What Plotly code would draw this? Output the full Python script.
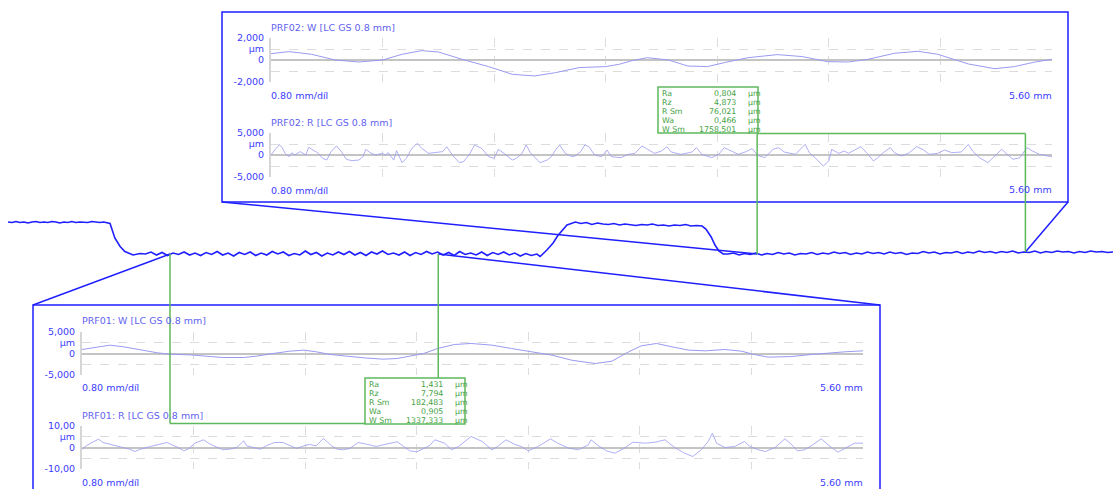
import numpy as np
import plotly.graph_objects as go

W_PX, H_PX = 1113, 489
FONT = "DejaVu Sans"

# ---------------------------------------------------------------- PRF02 (upper)
prf02_w_x = [0.00, 0.13, 0.29, 0.46, 0.63, 0.80, 0.94, 1.08, 1.20, 1.37, 1.56, 1.73,
             1.89, 2.04, 2.21, 2.40, 2.50, 2.59, 2.70, 2.85, 2.99, 3.13, 3.25, 3.42,
             3.63, 3.81, 3.99, 4.14, 4.28, 4.47, 4.64, 4.78, 5.00, 5.19, 5.33, 5.48, 5.60]
prf02_w = [0.58, 0.76, 0.52, 0.00, -0.18, 0.00, 0.52, 0.85, 0.73, 0.06, -0.60, -1.30,
           -1.45, -1.15, -0.69, -0.60, -0.38, -0.05, 0.21, 0.00, -0.55, -0.60, -0.24, 0.21,
           0.49, 0.31, -0.15, -0.18, 0.06, 0.61, 0.79, 0.52, -0.36, -0.79, -0.60, -0.18, 0.06]

prf02_r_x = [0.00, 0.03, 0.06, 0.08, 0.10, 0.13, 0.15, 0.17, 0.21, 0.25, 0.27, 0.31,
             0.34, 0.37, 0.40, 0.43, 0.47, 0.51, 0.54, 0.58, 0.63, 0.66, 0.68, 0.71,
             0.75, 0.80, 0.82, 0.84, 0.88, 0.90, 0.94, 0.97, 1.01, 1.05, 1.08, 1.13,
             1.18, 1.23, 1.26, 1.30, 1.35, 1.38, 1.42, 1.46, 1.51, 1.56, 1.60, 1.63,
             1.67, 1.70, 1.73, 1.76, 1.80, 1.83, 1.86, 1.91, 1.93, 1.98, 2.01, 2.04,
             2.07, 2.11, 2.16, 2.18, 2.22, 2.25, 2.28, 2.32, 2.37, 2.41, 2.44, 2.51,
             2.56, 2.61, 2.66, 2.70, 2.75, 2.80, 2.84, 2.87, 2.94, 3.02, 3.05, 3.09,
             3.16, 3.21, 3.25, 3.30, 3.35, 3.40, 3.45, 3.49, 3.54, 3.60, 3.64, 3.68,
             3.76, 3.83, 3.86, 3.90, 3.94, 3.96, 4.00, 4.02, 4.07, 4.11, 4.14, 4.19,
             4.23, 4.27, 4.32, 4.35, 4.39, 4.44, 4.47, 4.52, 4.57, 4.63, 4.68, 4.72,
             4.78, 4.83, 4.88, 4.95, 5.00, 5.03, 5.08, 5.14, 5.19, 5.24, 5.27, 5.32,
             5.37, 5.42, 5.46, 5.51, 5.57, 5.60]
prf02_r = [0.00, 1.29, 2.27, 1.74, 0.38, -0.38, 0.53, 0.00, 0.76, 0.00, 1.74, 0.98,
           0.38, -0.76, -1.14, 0.76, 2.05, 0.53, -0.98, -1.29, -1.14, -0.38, 1.29, 0.53,
           0.00, 0.38, 0.00, 0.53, -1.14, 0.98, -1.74, -0.76, 1.52, 2.65, 1.52, 0.38,
           0.53, 0.76, 1.89, 0.00, -1.74, -1.52, 0.00, 2.27, 1.52, -0.38, -0.76, 1.29,
           0.38, -0.38, -1.14, -0.76, 0.38, 2.27, 0.53, -1.14, -1.74, -1.14, -0.38, 1.14,
           2.27, 0.38, -0.38, -0.23, 0.76, 2.27, 1.89, 0.00, -0.38, 1.14, -0.38, -0.61,
           0.15, 0.38, 2.05, 1.29, 0.38, 0.91, 1.89, 0.68, 0.15, 0.68, 1.67, 0.15,
           -0.61, 0.15, 1.67, 0.91, 0.15, 0.68, 1.44, -0.08, -0.61, 1.29, 1.67, 0.68,
           0.15, 2.42, 0.53, -0.61, -1.74, -2.50, -1.36, 1.29, 0.38, 0.91, 0.38, 1.29,
           1.89, 0.53, -1.36, -0.61, 0.53, 1.67, 0.53, -0.23, 0.38, 1.89, 1.14, 0.15,
           0.38, 1.14, 0.53, 0.68, 2.42, 0.91, -0.61, -1.74, -0.23, 1.29, 0.38, -0.98,
           -0.61, 1.67, 0.91, 0.15, -0.23, -0.40]

# ---------------------------------------------------------------- PRF01 (lower)
prf01_w_x = [0.00, 0.11, 0.20, 0.30, 0.42, 0.54, 0.63, 0.77, 0.89, 1.01, 1.16, 1.25,
             1.37, 1.49, 1.59, 1.68, 1.78, 1.92, 2.02, 2.16, 2.26, 2.35, 2.45, 2.55,
             2.67, 2.79, 2.94, 3.08, 3.22, 3.37, 3.51, 3.68, 3.80, 3.92, 4.01, 4.12,
             4.23, 4.35, 4.47, 4.61, 4.73, 4.81, 4.92, 5.09, 5.23, 5.37, 5.47, 5.60]
prf01_w = [0.93, 1.55, 1.94, 1.55, 0.78, 0.16, -0.16, -0.31, -0.62, -0.93, -0.93, -0.62,
           0.00, 0.54, 0.78, 0.39, -0.23, -0.78, -1.01, -1.32, -1.16, -0.62, 0.00, 1.16,
           2.09, 2.33, 1.94, 1.16, 0.39, -0.39, -1.55, -2.33, -1.78, 0.39, 1.78, 2.33,
           1.55, 0.78, 0.62, 0.93, 0.54, -0.16, -0.85, -0.70, -0.23, 0.16, 0.39, 0.62]

prf01_r_x = [0.00, 0.03, 0.08, 0.12, 0.15, 0.22, 0.30, 0.34, 0.38, 0.42, 0.49, 0.56,
             0.61, 0.65, 0.69, 0.73, 0.76, 0.81, 0.87, 0.92, 0.97, 1.01, 1.06, 1.11,
             1.16, 1.18, 1.23, 1.28, 1.32, 1.38, 1.44, 1.49, 1.54, 1.59, 1.63, 1.68,
             1.73, 1.75, 1.79, 1.83, 1.87, 1.92, 1.98, 2.04, 2.11, 2.18, 2.26, 2.30,
             2.35, 2.40, 2.45, 2.49, 2.53, 2.60, 2.65, 2.70, 2.79, 2.87, 2.94, 2.98,
             3.04, 3.10, 3.15, 3.20, 3.27, 3.36, 3.41, 3.49, 3.56, 3.63, 3.65, 3.70,
             3.76, 3.82, 3.89, 3.95, 4.04, 4.11, 4.18, 4.25, 4.32, 4.38, 4.44, 4.49,
             4.52, 4.55, 4.61, 4.68, 4.75, 4.79, 4.85, 4.90, 4.97, 5.04, 5.09, 5.13,
             5.18, 5.24, 5.30, 5.35, 5.42, 5.47, 5.54, 5.60]
prf01_r = [-0.78, 0.78, 2.64, 3.88, 2.33, 1.09, 0.00, -0.78, -1.86, -0.78, 0.47, 1.55,
           2.33, 1.09, 0.00, -1.55, -0.78, 2.02, 3.57, 1.55, 0.00, -1.09, -0.78, 0.00,
           3.10, 0.78, 0.00, -0.78, 0.78, 2.33, 2.33, 0.78, -0.47, 0.78, 1.40, 0.78,
           4.19, 3.10, 0.78, -0.78, -1.09, -0.47, 2.33, 1.55, 0.47, 1.55, 2.64, 0.78,
           -1.55, -2.02, -0.47, 0.78, 3.57, 2.02, -1.09, 0.47, 5.12, 2.79, -1.09, 0.47,
           3.57, 1.55, 0.47, -1.55, 0.47, 4.03, 2.02, -0.31, -1.09, 1.24, 3.57, 0.93,
           -1.55, -2.64, -0.31, 2.48, 2.02, 2.48, 3.57, 0.00, -2.64, -4.19, -1.09, 2.79,
           6.67, 2.02, 0.00, 0.47, 2.79, 0.47, -1.09, -1.86, 0.00, 4.03, 1.24, -1.55,
           -1.09, 1.24, 4.03, 1.24, -2.17, -0.31, 2.02, 2.02]

prf02_labels = ["Ra", "Rz", "R Sm", "Wa", "W Sm"]
prf02_values = ["0,804", "4,873", "76,021", "0,466", "1758,501"]
prf01_labels = ["Ra", "Rz", "R Sm", "Wa", "W Sm"]
prf01_values = ["1,431", "7,794", "182,483", "0,905", "1337,333"]

# ---------------------------------------------------------------- full trace (mm, µm)
plateau_left = [2, 1, 3, 1, 2, 0, 2, 3, 1, 2, 1, 3, 2, 0, 2, 1, 3, 1, 2, 2, 1, 3, 2, 1, 2]
plateau_left_span = (0.0, 2.0)
drop_left_x = [2.07, 2.13, 2.23, 2.34, 2.44, 2.61, 2.76]
drop_left = [1, -1, -30, -47, -57, -64, -61]
floor_left = [-62, -58, -64, -59, -65, -60, -63, -58, -64, -60, -65, -59, -63, -57, -64, -60,
              -66, -59, -63, -58, -65, -60, -64, -57, -62, -58, -65, -61, -64, -56, -63, -59,
              -66, -60, -64, -58, -63, -57, -64, -59, -65, -58, -62, -56, -63, -60, -64, -58,
              -65, -59, -63, -57, -62, -58, -64, -59, -65, -57, -63, -60, -64, -58, -65, -59,
              -63, -58, -64, -60, -66, -61, -65, -62]
floor_left_span = (2.87, 11.04)
rise_x = [11.11, 11.25, 11.38, 11.48, 11.59, 11.67]
rise = [-67, -54, -40, -25, -12, -4]
plateau_right = [-2, 2, -1, 1, -3, 0, -2, -3, -1, -4, -2, -3, -5, -3, -4, -2, -5, -4, -6, -4,
                 -5, -3, -6, -5, -6]
plateau_right_span = (11.73, 14.49)
drop_right_x = [14.57, 14.68, 14.76, 14.84, 14.93]
drop_right = [-12, -28, -44, -56, -62]
floor_right = [-62, -60, -64, -61, -63, -60, -64, -61, -63, -59, -62, -60, -64, -61, -62, -59,
               -63, -60, -62, -58, -61, -59, -63, -60, -62, -58, -61, -59, -62, -58, -61, -59,
               -63, -60, -61, -57, -60, -58, -62, -59, -60, -57, -61, -58, -60, -56, -59, -57,
               -60, -57, -59, -56, -60, -58, -59, -56, -60, -57, -59, -56, -58, -57, -60, -57,
               -59, -56, -58, -57, -59, -58]
floor_right_span = (15.03, 23.07)

# evaluation lengths on the full trace (mm)
prf01_start, prf02_start, eval_len = 3.382, 15.64, 5.60

# ---------------------------------------------------------------- assemble full trace
def sampled(values, span):
    return list(np.linspace(span[0], span[1], len(values)))

full_x = (sampled(plateau_left, plateau_left_span) + drop_left_x
          + sampled(floor_left, floor_left_span) + rise_x
          + sampled(plateau_right, plateau_right_span) + drop_right_x
          + sampled(floor_right, floor_right_span))
full_z = (plateau_left + drop_left + floor_left + rise + plateau_right
          + drop_right + floor_right)

# full-trace axis: 47.9 px per mm, trace origin 8 px from the left edge
PX_PER_MM, X_ORIGIN = 47.9, 8.0
MX = (-X_ORIGIN / PX_PER_MM, (W_PX - X_ORIGIN) / PX_PER_MM)
MY = (-532.0, 446.0)


def fx(p):
    return p / W_PX


def fy(p):
    return 1 - p / H_PX


def main_to_paper(mm, um):
    return (mm - MX[0]) / (MX[1] - MX[0]), (um - MY[0]) / (MY[1] - MY[0])


BLUE = "#1f1fff"
TICK_BLUE = "#3c3cff"
TITLE_BLUE = "#6262f0"
TRACE = "#9a9af2"
GREEN = "#5cb85c"
GREEN_TXT = "#3f9f3f"
GRID = "#dcdcdc"

fig = go.Figure()
fig.add_trace(go.Scatter(x=full_x, y=full_z, mode="lines",
                         line=dict(color=BLUE, width=1.6), xaxis="x", yaxis="y",
                         hoverinfo="skip"))

layout = dict(
    width=W_PX, height=H_PX, margin=dict(l=0, r=0, t=0, b=0, pad=0, autoexpand=False),
    paper_bgcolor="white", plot_bgcolor="rgba(0,0,0,0)", showlegend=False,
    font=dict(family=FONT, size=9.5, color=TICK_BLUE),
    xaxis=dict(domain=[0, 1], range=list(MX), visible=False, fixedrange=True,
               automargin=False),
    yaxis=dict(domain=[0, 1], range=list(MY), visible=False, fixedrange=True,
               automargin=False),
)

panels = [
    # name, x px, y px, data x, data y, y limit, tick texts, line width
    ("2", (271, 1052), (38, 82), prf02_w_x, prf02_w, 2, ["-2,000", "", "0", "µm", "2,000"], 1.0),
    ("3", (271, 1052), (133, 177), prf02_r_x, prf02_r, 5, ["-5,000", "", "0", "µm", "5,000"], 0.8),
    ("4", (82, 863), (332, 375), prf01_w_x, prf01_w, 5, ["-5,000", "", "0", "µm", "5,000"], 1.0),
    ("5", (82, 863), (426, 469), prf01_r_x, prf01_r, 10, ["-10,00", "", "0", "µm", "10,00"], 0.8),
]

for name, (x0, x1), (y0, y1), dx, dy, lim, ttext, lw in panels:
    fig.add_trace(go.Scatter(x=dx, y=dy, mode="lines", line=dict(color=TRACE, width=lw),
                             xaxis="x" + name, yaxis="y" + name, hoverinfo="skip"))
    layout["xaxis" + name] = dict(
        domain=[fx(x0), fx(x1)], range=[0, eval_len], anchor="y" + name,
        tick0=0, dtick=0.8, showticklabels=False, ticks="", automargin=False,
        showgrid=True, gridcolor=GRID, griddash="dash", gridwidth=1,
        zeroline=False, showline=False, fixedrange=True)
    layout["yaxis" + name] = dict(
        domain=[fy(y1), fy(y0)], range=[-lim, lim], anchor="x" + name,
        tickvals=[-lim, -lim / 2, 0, lim / 2, lim], ticktext=ttext, automargin=False,
        ticks="outside", ticklen=3, tickcolor="rgba(0,0,0,0)",
        tickfont=dict(family=FONT, size=9.5, color=TICK_BLUE),
        showgrid=True, gridcolor=GRID, griddash="dash", gridwidth=1,
        zeroline=True, zerolinecolor="#c4c4c4", zerolinewidth=1.5,
        showline=True, linecolor="#d6d6d6", linewidth=2, fixedrange=True)

shapes = []
annotations = []


def line_paper(a, b, color, width=1.5):
    shapes.append(dict(type="line", xref="paper", yref="paper",
                       x0=a[0], y0=a[1], x1=b[0], y1=b[1],
                       line=dict(color=color, width=width), layer="above"))


# panel frames
shapes.append(dict(type="rect", xref="paper", yref="paper", x0=fx(222), x1=fx(1068),
                   y0=fy(202), y1=fy(12), line=dict(color=BLUE, width=1.5),
                   fillcolor="rgba(0,0,0,0)", layer="above"))
shapes.append(dict(type="rect", xref="paper", yref="paper", x0=fx(33), x1=fx(880),
                   y0=fy(500), y1=fy(305), line=dict(color=BLUE, width=1.5),
                   fillcolor="rgba(0,0,0,0)", layer="above"))

# zoom connectors from frame corners to the evaluation limits on the full trace
p2a = main_to_paper(prf02_start, -62)
p2b = main_to_paper(prf02_start + eval_len, -58)
p1a = main_to_paper(prf01_start, -62)
p1b = main_to_paper(prf01_start + eval_len, -62)
line_paper((fx(222), fy(202)), p2a, BLUE)
line_paper((fx(1068), fy(202)), p2b, BLUE)
line_paper((fx(33), fy(305)), p1a, BLUE)
line_paper((fx(880), fy(305)), p1b, BLUE)

# evaluation brackets
top2 = fy(133.5)
line_paper(p2a, (p2a[0], top2), GREEN)
line_paper(p2b, (p2b[0], top2), GREEN)
line_paper((p2a[0], top2), (p2b[0], top2), GREEN)
bot1 = fy(423.5)
line_paper(p1a, (p1a[0], bot1), GREEN)
line_paper((p1a[0], bot1), (fx(365), bot1), GREEN)
line_paper(p1b, (p1b[0], fy(378)), GREEN)


def param_box(left, top, labels, values):
    shapes.append(dict(type="rect", xref="paper", yref="paper", x0=fx(left), x1=fx(left + 100),
                       y0=fy(top + 46), y1=fy(top), line=dict(color=GREEN, width=1.5),
                       fillcolor="white", layer="above"))
    for i, (lab, val) in enumerate(zip(labels, values)):
        yc = fy(top + 6 + i * 9.1)
        common = dict(xref="paper", yref="paper", y=yc, yanchor="middle", showarrow=False,
                      font=dict(family=FONT, size=7.8, color=GREEN_TXT))
        annotations.append(dict(text=lab, x=fx(left + 2), xanchor="left", **common))
        annotations.append(dict(text=val, x=fx(left + 80), xanchor="right", **common))
        annotations.append(dict(text="µm", x=fx(left + 88), xanchor="left", **common))


param_box(658, 87, prf02_labels, prf02_values)
param_box(365, 378, prf01_labels, prf01_values)


def text_px(s, x, y, anchor="left", color=TICK_BLUE):
    annotations.append(dict(text=s, x=fx(x), y=fy(y), xref="paper", yref="paper",
                            xanchor=anchor, yanchor="middle", showarrow=False,
                            font=dict(family=FONT, size=9.5, color=color)))


text_px("PRF02: W [LC GS 0.8 mm]", 269, 27, color=TITLE_BLUE)
text_px("0.80 mm/díl", 269, 95)
text_px("5.60 mm", 1054, 95, "right")
text_px("PRF02: R [LC GS 0.8 mm]", 269, 122, color=TITLE_BLUE)
text_px("0.80 mm/díl", 269, 190)
text_px("5.60 mm", 1054, 189, "right")
text_px("PRF01: W [LC GS 0.8 mm]", 80, 320, color=TITLE_BLUE)
text_px("0.80 mm/díl", 80, 387.5)
text_px("5.60 mm", 865, 387.5, "right")
text_px("PRF01: R [LC GS 0.8 mm]", 80, 415, color=TITLE_BLUE)
text_px("0.80 mm/díl", 80, 482)
text_px("5.60 mm", 865, 482, "right")

layout["shapes"] = shapes
layout["annotations"] = annotations
fig.update_layout(**layout)
fig.write_html("out.html")
